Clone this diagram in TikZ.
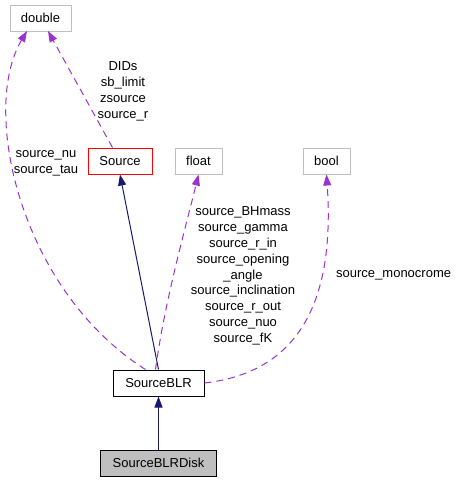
\documentclass[tikz,border=0pt]{standalone}
\usepackage{fontspec}
\setmainfont{Liberation Sans}
\usetikzlibrary{arrows.meta}
\definecolor{edgepurple}{HTML}{9A32CD}
\definecolor{edgenavy}{HTML}{191970}
\definecolor{boxgray}{HTML}{BFBFBF}
\begin{document}
\begin{tikzpicture}[x=1pt,y=-1pt,
  cls/.style={draw=boxgray,line width=1pt,minimum height=26pt,inner sep=2pt,font=\fontsize{13}{15.5}\selectfont},
  usage/.style={draw=edgepurple,line width=1pt,dash pattern=on 7pt off 5pt,-{Triangle[length=11pt,width=8pt]}},
  inherit/.style={draw=edgenavy,line width=1pt,-{Triangle[length=11pt,width=8pt,fill=edgenavy]}},
  lbl/.style={align=center,inner sep=0pt,font=\fontsize{13}{15.8}\selectfont}]
\useasboundingbox (0,0) rectangle (459,485);
\node[cls,minimum width=61pt] (double) at (40.5,18) {double};
\node[cls,draw=red,minimum width=64pt] (source) at (120,161) {Source};
\node[cls,minimum width=47pt] (float) at (198.5,161) {float};
\node[cls,minimum width=47pt] (bool) at (326.5,161) {bool};
\node[cls,draw=black,minimum width=91pt] (blr) at (158.5,383) {SourceBLR};
\node[cls,draw=black,fill=boxgray,minimum width=116pt] (disk) at (158.5,463) {SourceBLRDisk};

\coordinate (dA) at (48,31);
\coordinate (dB) at (27,31);
\draw[usage] (source.north west) ++(25,0) -- (dA);
\draw[usage] (blr.north west) ++(33,0) .. controls (20,290) and (-20,110) .. (dB);
\draw[inherit] (blr.north) -- (source.south);
\draw[usage] (blr.north) ++(-3,0) .. controls (165,300) and (185,230) .. (float.south);
\draw[usage] (blr.east) .. controls (300,372) and (335,300) .. (bool.south);
\draw[inherit] (disk.north) -- (blr.south);

\node[lbl] (l1) at (123,91.5) {DIDs\\sb\_limit\\zsource\\source\_r};
\node[lbl] (l2) at (46,163) {source\_nu\\source\_tau};
\node[lbl] (l3) at (243,276) {source\_BHmass\\source\_gamma\\source\_r\_in\\source\_opening\\\_angle\\source\_inclination\\source\_r\_out\\source\_nuo\\source\_fK};
\node[lbl,anchor=west] (l4) at (336,275) {source\_monocrome};
\end{tikzpicture}
\end{document}
